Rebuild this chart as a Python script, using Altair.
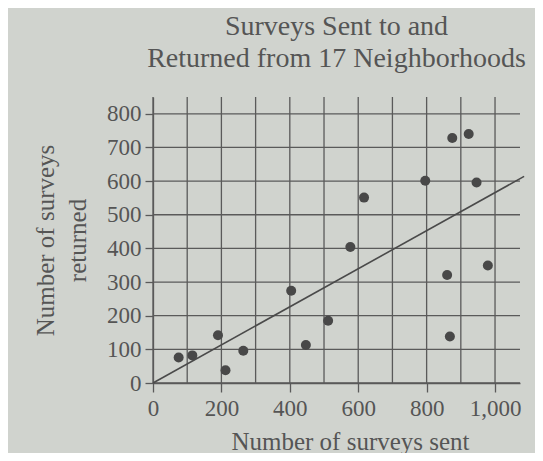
import altair as alt
import pandas as pd

sent = [75, 115, 190, 212, 264, 404, 447, 512, 577, 617, 796, 875, 923, 946, 860, 868, 979]
returned = [76, 82, 142, 38, 96, 274, 113, 185, 404, 551, 601, 728, 740, 596, 321, 138, 349]
line_x = [0, 1085]
line_y = [0, 614]
x_ticks = [0, 200, 400, 600, 800, 1000]
y_ticks = [0, 100, 200, 300, 400, 500, 600, 700, 800]
x_grid = [0, 100, 200, 300, 400, 500, 600, 700, 800, 900, 1000]
y_grid = [0, 100, 200, 300, 400, 500, 600, 700, 800]

pts = pd.DataFrame({"sent": sent, "returned": returned})
ln = pd.DataFrame({"sent": line_x, "returned": line_y})
vgrid = pd.DataFrame({"sent": x_grid})
hgrid = pd.DataFrame({"returned": y_grid})

FONT = "Liberation Serif"
TXT = "#555555"
GRID = "#5a5a5a"

xscale = alt.Scale(domain=[0, 1073], nice=False, zero=True)
yscale = alt.Scale(domain=[0, 850], nice=False, zero=True)

xaxis = alt.Axis(
    title="Number of surveys sent", values=x_ticks,
    labelExpr="format(datum.value, ',')",
    grid=False,
    domainColor=GRID, domainWidth=1.3, tickColor=GRID, tickWidth=1.3, tickSize=9,
    labelFont=FONT, labelFontSize=23, labelColor=TXT, labelPadding=5,
    titleFont=FONT, titleFontSize=25, titleColor=TXT, titleFontWeight="normal",
    titlePadding=9, titleX=197, labelFlush=False,
)
yaxis = alt.Axis(
    title=["Number of  surveys", "returned"], values=y_ticks,
    grid=False,
    domainColor=GRID, domainWidth=1.3, tickColor=GRID, tickWidth=1.3, tickSize=8,
    labelFont=FONT, labelFontSize=23, labelColor=TXT, labelPadding=4,
    titleFont=FONT, titleFontSize=25, titleColor=TXT, titleFontWeight="normal",
    titlePadding=16, titleLineHeight=32, labelFlush=False,
)

X = alt.X("sent:Q", scale=xscale, axis=xaxis)
Y = alt.Y("returned:Q", scale=yscale, axis=yaxis)

vlines = alt.Chart(vgrid).mark_rule(color=GRID, strokeWidth=1.3).encode(x=X)
hlines = alt.Chart(hgrid).mark_rule(color=GRID, strokeWidth=1.3).encode(y=Y)
fit = alt.Chart(ln).mark_line(color="#4a4a4a", strokeWidth=1.6, clip=False).encode(x=X, y=Y)
points = alt.Chart(pts).mark_circle(size=100, color="#484848", opacity=1).encode(x=X, y=Y)

chart = alt.layer(vlines, hlines, fit, points).properties(
    width=367, height=286,
    padding={"left": 145, "top": 89, "right": 15, "bottom": 70},
    autosize=alt.AutoSizeParams(type="none"),
    background="#d0d3ce",
    title=alt.Title(
        ["Surveys Sent to and", "Returned from 17 Neighborhoods"],
        font=FONT, fontSize=28, fontWeight="normal", color=TXT,
        lineHeight=32, anchor="middle", offset=23,
    ),
).configure_view(stroke=None)

chart.save("out.html", embed_options={"renderer": "svg", "actions": False})
